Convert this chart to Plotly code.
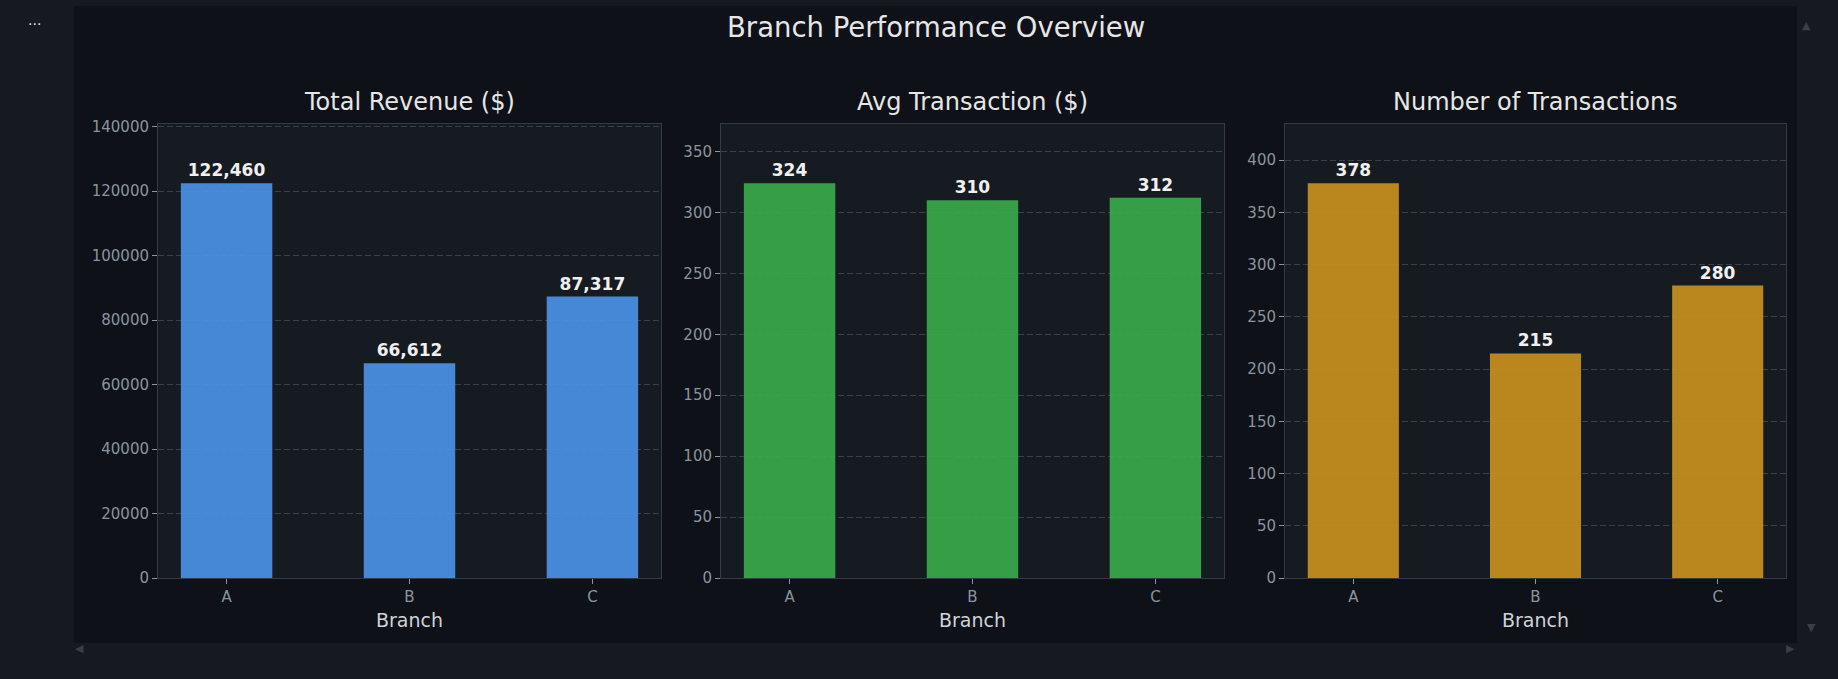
import plotly.graph_objects as go

# data
branches = ['A', 'B', 'C']
total_revenue = [122460, 66612, 87317]
avg_transaction = [324, 310, 312]
num_transactions = [378, 215, 280]

titles = ['Total Revenue ($)', 'Avg Transaction ($)', 'Number of Transactions']
x_title = 'Branch'
colors = ['#4C95EA', '#3AAD4B', '#CC921E']
dticks = [20000, 50, 50]
formats = ['%{y:,}', '%{y}', '%{y}']

W, H = 1838, 679
font_family = 'DejaVu Sans'

# plot areas in pixels (left, right), shared top/bottom
px_cols = [(158, 661), (721, 1224), (1285, 1786)]
top_px, bottom_px = 124, 578

fig = go.Figure()

for i, (vals, col, fmt) in enumerate(zip([total_revenue, avg_transaction, num_transactions], colors, formats)):
    n = '' if i == 0 else str(i + 1)
    fig.add_trace(go.Bar(
        x=branches,
        y=vals,
        width=0.5,
        marker=dict(color=col, opacity=0.9, line_width=0),
        text=vals,
        texttemplate=fmt,
        textposition='outside',
        textfont=dict(family=font_family, size=17, color='#f0f0f0', weight='bold'),
        cliponaxis=False,
        xaxis='x' + n,
        yaxis='y' + n,
        showlegend=False,
        hoverinfo='x+y',
    ))

    left, right = px_cols[i]
    fig.layout['xaxis' + n] = dict(
        domain=[left / W, right / W],
        anchor='y' + n,
        range=[-0.375, 2.375],
        automargin=False,
        showgrid=False,
        showline=True, mirror=True, linecolor='#353b44', linewidth=1,
        ticks='outside', ticklen=5, tickcolor='#8b949e',
        tickfont=dict(family=font_family, size=15, color='#8b949e'),
        zeroline=False,
        fixedrange=True,
    )
    fig.layout['yaxis' + n] = dict(
        domain=[1 - bottom_px / H, 1 - top_px / H],
        anchor='x' + n,
        range=[0, max(vals) * 1.15],
        dtick=dticks[i],
        tickformat='d',
        automargin=False,
        showgrid=True, gridcolor='#3a4049', griddash='6px,3px', gridwidth=1,
        showline=True, mirror=True, linecolor='#353b44', linewidth=1,
        ticks='outside', ticklen=5, tickcolor='#8b949e',
        tickfont=dict(family=font_family, size=15, color='#8b949e'),
        zeroline=False,
        fixedrange=True,
    )
    # subplot title and x-axis title
    fig.add_annotation(
        text=titles[i], xref='paper', yref='paper',
        x=(left + right) / 2 / W, y=1 - 102 / H,
        xanchor='center', yanchor='middle', showarrow=False,
        font=dict(family=font_family, size=24, color='#e6e6e6'),
    )
    fig.add_annotation(
        text=x_title, xref='paper', yref='paper',
        x=(left + right) / 2 / W, y=1 - 620 / H,
        xanchor='center', yanchor='middle', showarrow=False,
        font=dict(family=font_family, size=19, color='#d0d4d9'),
    )

# main title
fig.add_annotation(
    text='Branch Performance Overview', xref='paper', yref='paper',
    x=935.5 / W, y=1 - 27 / H, xanchor='center', yanchor='middle', showarrow=False,
    font=dict(family=font_family, size=27.5, color='#e6e6e6'),
)

# surrounding app frame strips
frame = '#16191f'
for x0, x1, y0, y1 in [(0, 74, 0, H), (1797, W, 0, H), (0, W, 643, H), (0, W, 0, 6)]:
    fig.add_shape(type='rect', xref='paper', yref='paper',
                  x0=x0 / W, x1=x1 / W, y0=1 - y1 / H, y1=1 - y0 / H,
                  fillcolor=frame, line_width=0, layer='below')

fig.add_annotation(text='···', xref='paper', yref='paper', x=26 / W, y=1 - 14 / H,
                   showarrow=False, font=dict(family=font_family, size=14, color='#e6e6e6'))
for sym, xp, yp in [('◀', 73, 657), ('▶', 1797, 657), ('▲', 1813, 17), ('▼', 1818, 636)]:
    fig.add_annotation(text=sym, xref='paper', yref='paper', x=xp / W, y=1 - yp / H,
                       showarrow=False, font=dict(family=font_family, size=11, color='#3a3f47'))

fig.update_layout(
    width=W, height=H,
    margin=dict(l=0, r=0, t=0, b=0, autoexpand=False),
    paper_bgcolor='#0e1117',
    plot_bgcolor='#161b22',
    bargap=0.5,
)

fig.write_html('out.html', config={'displayModeBar': False},
               post_script="document.body.style.margin='0';document.body.style.overflow='hidden';")
